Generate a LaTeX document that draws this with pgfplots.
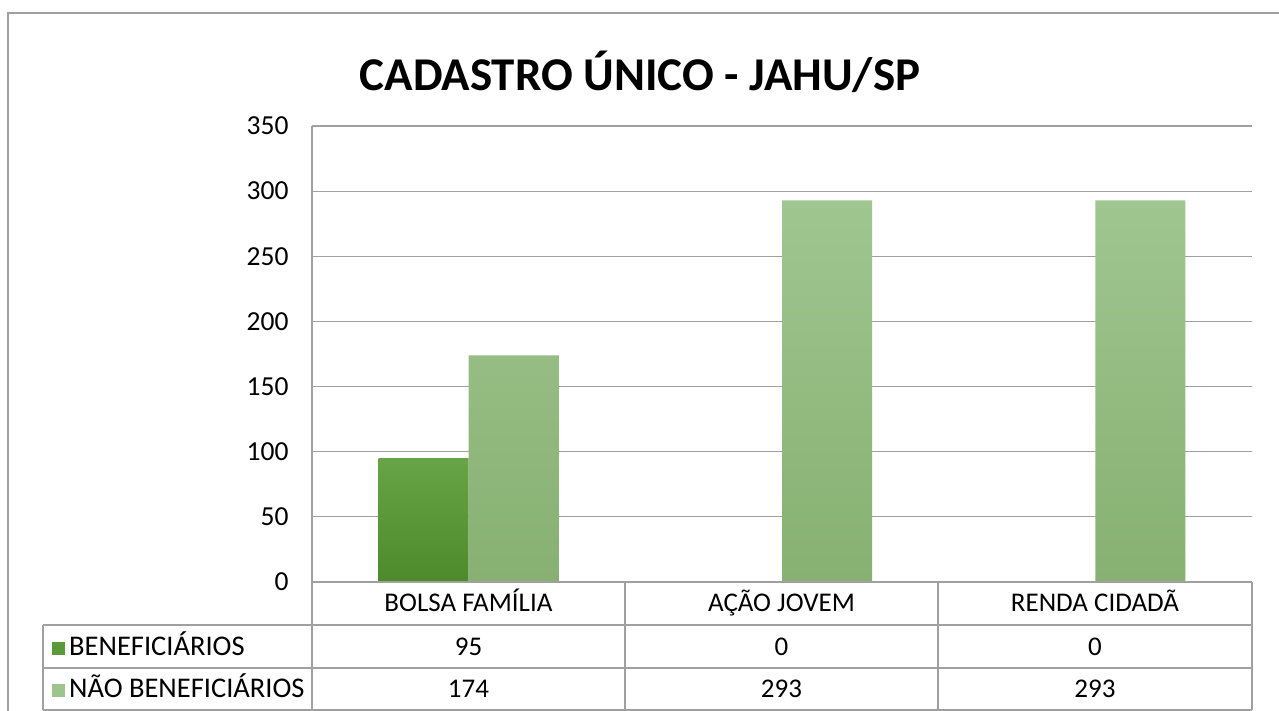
\documentclass[border=0pt]{standalone}
\usepackage{pgfplots}
\pgfplotsset{compat=1.18}
\usepackage{fontspec}
\setmainfont{Carlito}
\definecolor{darkg}{HTML}{5A9A38}
\definecolor{darkgt}{HTML}{67A447}
\definecolor{darkgb}{HTML}{4C8A2A}
\definecolor{lightgt}{HTML}{A0C690}
\definecolor{lightgb}{HTML}{87B072}
\definecolor{gridc}{HTML}{A0A0A0}
\begin{document}
\begin{tikzpicture}[x=1pt,y=1pt]
\useasboundingbox (0,0) rectangle (1279,711);
% frame
\draw[gridc, line width=1.2pt] (8,0) -- (8,698) -- (1279,698);
% title
\node[anchor=base, font=\fontsize{47}{56}\selectfont\bfseries] at (640,620) {CADASTRO ÚNICO - JAHU/SP};
\begin{axis}[
  at={(312pt,129pt)}, anchor=south west,
  scale only axis, width=940pt, height=456pt,
  xmin=-0.5, xmax=2.5, ymin=0, ymax=350,
  ytick={0,50,...,350}, xtick=\empty,
  ymajorgrids, grid style={gridc, line width=1.2pt},
  axis line style={draw=none},
  major tick length=0pt,
  tick label style={font=\fontsize{27.5}{30}\selectfont},
  /pgf/number format/assume math mode=true,
  yticklabel style={xshift=-20pt},
  ybar=0pt, bar width=0.2875,
  clip=false,
]
\addplot[draw=none, top color=darkgt, bottom color=darkgb] coordinates {(0,95) (1,0) (2,0)};
\addplot[draw=none, top color=lightgt, bottom color=lightgb] coordinates {(0,174) (1,293) (2,293)};
\end{axis}
% table lines
\begin{scope}[gridc, line width=1.2pt]
\draw (312,1) -- (312,585);
\draw (312,129) -- (1252,129);
\draw (43,86) -- (1252,86);
\draw (43,43) -- (1252,43);
\draw (43,1) -- (1252,1);
\draw (43,1) -- (43,86);
\draw (625,1) -- (625,129);
\draw (938,1) -- (938,129);
\draw (1252,1) -- (1252,129);
\end{scope}
\begin{scope}[font=\fontsize{27}{30}\selectfont, every node/.style={anchor=base}]
\node at (468.5,99) {BOLSA FAMÍLIA};
\node at (781.5,99) {AÇÃO JOVEM};
\node at (1095,99) {RENDA CIDADÃ};
\node at (468.5,55) {95};
\node at (781.5,55) {0};
\node at (1095,55) {0};
\node at (468.5,13) {174};
\node at (781.5,13) {293};
\node at (1095,13) {293};
\fill[darkg] (52,56) rectangle (65,69);
\fill[lightgt!90!lightgb] (52,14) rectangle (65,27);
\node[anchor=base west, inner sep=0pt, font=\fontsize{28.5}{30}\selectfont] at (69,55) {BENEFICIÁRIOS};
\node[anchor=base west, inner sep=0pt, font=\fontsize{28.5}{30}\selectfont] at (69,13) {NÃO BENEFICIÁRIOS};
\end{scope}
\end{tikzpicture}
\end{document}
